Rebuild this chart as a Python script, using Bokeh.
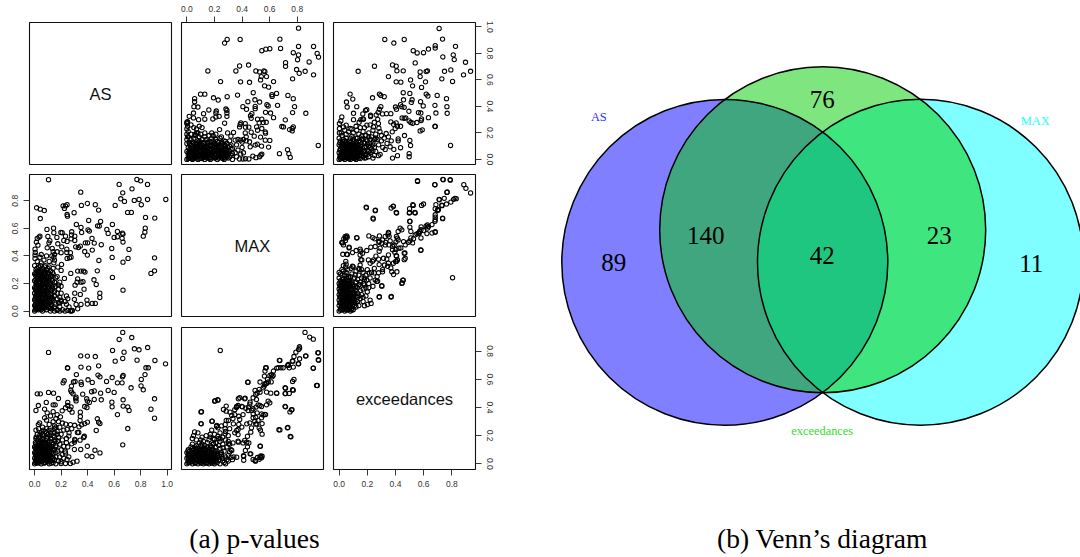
from bokeh.core.properties import value
from bokeh.embed import file_html
from bokeh.layouts import column, row
from bokeh.models import FixedTicker, PrintfTickFormatter, Range1d
from bokeh.plotting import figure
from bokeh.resources import INLINE

# ---- data ----
VARIABLES = ["AS", "MAX", "exceedances"]
TICKS_08 = [0.0, 0.2, 0.4, 0.6, 0.8]
TICKS_10 = [0.0, 0.2, 0.4, 0.6, 0.8, 1.0]

# (MAX, AS)
max_as_pairs = [
 (.809,.99),(.292,.905),(.273,.878),(.386,.905),(.674,.907),(.679,.837),(.543,.82),(.572,.832),(.601,.835),(.809,.852),
 (.918,.852),(.771,.805),(.809,.788),(.802,.752),(.944,.8),(.954,.772),(.886,.735),(.715,.73),(.715,.702),(.382,.705),
 (.355,.667),(.447,.712),(.152,.667),(.244,.587),(.389,.585),(.454,.582),(.5,.667),(.527,.66),(.558,.667),(.565,.662),
 (.539,.625),(.577,.625),(.534,.6),(.628,.587),(.563,.555),(.592,.545),(.795,.678),(.814,.65),(.857,.665),(.918,.638),
 (.766,.608),(.099,.492),(.13,.492),(.056,.458),(.056,.435),(.051,.398),(.08,.395),(.193,.465),(.227,.448),(.292,.473),
 (.367,.485),(.481,.503),(.442,.435),(.493,.45),(.527,.433),(.616,.488),(.65,.498),(.618,.475),(.732,.483),(.771,.458),
 (.406,.398),(.432,.378),(.495,.4),(.495,.383),(.657,.408),(.58,.413),(.589,.403),(.78,.398),(.766,.353),(.862,.348),
 (.57,.355),(.606,.35),(.628,.315),(.471,.345),(.461,.33),(.466,.31),(.121,.345),(.159,.373),(.213,.365),(.21,.35),
 (.234,.325),(.21,.32),(.188,.305),(.283,.38),(.29,.37),(.29,.35),(.29,.325),(.048,.35),(.017,.325),(.048,.313),
 (.085,.3),(.13,.303),(.005,.285),(.0,.28),(.273,.273),(.713,.298),(.512,.303),(.543,.303),(.524,.275),(.553,.278),
 (.575,.28),(.391,.275),(.382,.245),(.423,.27),(.425,.243),(.386,.263),(.449,.243),(.688,.248),(.7,.245),(.744,.225),
 (.763,.233),(.763,.215),(.771,.245),(.505,.245),(.512,.22),(.543,.233),(.568,.208),(.57,.198),(.295,.2),(.319,.175),
 (.338,.203),(.237,.225),(.534,.168),(.568,.145),(.601,.143),(.541,.1),(.592,.093),(.423,.2),(.43,.17),(.466,.205),
 (.488,.175),(.454,.133),(.459,.095),(.495,.108),(.51,.115),(.671,.043),(.729,.073),(.739,.043),(.749,.015),(.952,.105),
 (.478,.025),(.536,.033),(.543,.04),(.527,.02),(.5,.013),(.449,.003),(.425,.005),(.406,.003),(.382,.003),
 (.0,.27),(.005,.25),(.0,.23),(.01,.21),(.0,.19),(.005,.17),(.0,.15),(.015,.13),(.03,.26),(.05,.24),(.07,.23),(.09,.25),
 (.11,.24),(.08,.2),(.06,.19),(.1,.19),(.13,.2),(.35,.145),(.37,.15),(.39,.145),(.41,.15),(.43,.14),(.4,.13),
 (.00,.00),(.02,.01),(.04,.00),(.06,.02),(.08,.00),(.10,.01),(.13,.00),(.15,.02),(.17,.00),(.20,.01),(.22,.00),(.25,.02),
 (.27,.00),(.30,.01),(.33,.00),(.01,.03),(.03,.02),(.05,.04),(.07,.03),(.09,.05),(.11,.03),(.14,.04),(.16,.03),(.19,.05),
 (.21,.03),(.24,.04),(.26,.03),(.29,.05),(.32,.03),(.36,.02),(.00,.06),(.02,.05),(.04,.07),(.06,.06),(.08,.08),(.10,.06),
 (.12,.07),(.15,.06),(.18,.08),(.20,.06),(.23,.07),(.25,.06),(.28,.08),(.31,.06),(.35,.05),(.39,.04),(.01,.09),(.03,.08),
 (.05,.10),(.07,.09),(.09,.11),(.13,.09),(.16,.10),(.19,.09),(.22,.11),(.24,.09),(.27,.10),(.30,.09),(.33,.08),(.37,.07),
 (.41,.05),(.00,.12),(.02,.11),(.04,.13),(.06,.12),(.10,.13),(.12,.12),(.17,.13),(.20,.12),(.23,.13),(.26,.12),(.29,.12),
 (.32,.11),(.36,.11),(.40,.09),(.03,.15),(.05,.16),(.08,.14),(.11,.15),(.14,.15),(.18,.16),(.21,.15),(.24,.16),(.27,.14),
 (.31,.14),(.01,.17),(.06,.18),(.09,.17),(.13,.17),(.16,.18),(.19,.18),(.25,.17),(.03,.19),(.07,.20),(.18,.20),(.21,.19),
 (.015,.015),(.035,.035),(.055,.015),(.075,.05),(.095,.025),(.115,.045),(.125,.015),(.145,.055),(.165,.015),(.185,.03),
 (.205,.045),(.225,.02),(.245,.055),(.265,.015),(.285,.03),(.025,.065),(.045,.045),(.065,.075),(.085,.035),(.105,.085),
 (.125,.045),(.145,.085),(.165,.065),(.195,.07),(.215,.09),(.235,.05),(.275,.065),
 (.01,.005),(.03,.008),(.05,.006),(.07,.012),(.09,.004),(.11,.007),(.12,.025),(.14,.012),(.16,.006),(.18,.012),(.19,.02),
 (.21,.012),(.23,.009),(.24,.025),(.26,.007),(.28,.012),(.29,.02),(.31,.018),(.02,.03),(.04,.025),(.06,.035),(.08,.025),
 (.10,.035),(.12,.035),(.13,.025),(.15,.035),(.17,.035),(.18,.045),(.20,.035),(.22,.035),(.23,.045),(.25,.04),(.27,.035),
 (.28,.045),(.30,.04),(.33,.045),(.01,.05),(.03,.055),(.05,.055),(.07,.06),(.09,.065),(.11,.065),(.13,.06),(.14,.07),
 (.16,.055),(.17,.075),(.19,.06),(.21,.065),(.22,.07),(.24,.07),(.26,.075),(.27,.08),(.29,.07),(.32,.075),(.02,.075),
 (.04,.085),(.06,.095),(.08,.10),(.10,.095),(.11,.105),(.12,.09),(.14,.10),(.15,.095),(.17,.105),(.18,.10),(.20,.095),
 (.21,.11),(.23,.10),(.25,.105),(.28,.10),(.31,.10),(.02,.12),(.03,.105),(.05,.125),(.07,.115),(.08,.125),(.09,.135),
 (.11,.125),(.13,.13),(.15,.125),(.16,.135),(.18,.13),(.19,.14),(.22,.135),(.25,.13),(.28,.135),
]

# (exceedances, AS)
exc_as_pairs = [
 (.71,.988),(.324,.905),(.388,.878),(.462,.905),(.734,.908),(.682,.858),(.682,.84),(.634,.833),(.599,.805),(.554,.803),
 (.526,.82),(.826,.853),(.736,.773),(.81,.788),(.817,.753),(.897,.733),(.54,.728),(.251,.703),(.379,.713),(.405,.703),
 (.41,.668),(.455,.668),(.135,.665),(.35,.625),(.405,.585),(.438,.583),(.575,.66),(.575,.625),(.618,.663),(.627,.668),
 (.613,.585),(.507,.6),(.521,.555),(.585,.543),(.748,.665),(.793,.675),(.729,.608),(.805,.588),(.883,.638),(.933,.665),
 (.455,.503),(.502,.498),(.618,.493),(.63,.478),(.696,.483),(.762,.458),(.078,.493),(.097,.455),(.052,.433),(.057,.395),
 (.125,.398),(.102,.348),(.237,.465),(.286,.493),(.296,.483),(.32,.473),(.187,.37),(.168,.343),(.196,.375),(.296,.398),
 (.286,.378),(.277,.355),(.263,.335),(.4,.395),(.407,.378),(.457,.45),(.518,.45),(.512,.43),(.578,.435),(.597,.403),
 (.68,.408),(.765,.398),(.767,.348),(.687,.35),(.563,.353),(.58,.35),(.436,.413),(.445,.398),(.462,.393),(.495,.363),
 (.308,.343),(.336,.345),(.367,.345),(.223,.333),(.223,.323),(.447,.313),(.462,.31),(.473,.313),(.585,.305),(.634,.315),
 (.497,.29),(.509,.278),(.523,.273),(.552,.278),(.582,.293),(.68,.25),(.682,.248),(.436,.25),(.367,.283),(.386,.265),
 (.405,.275),(.414,.25),(.575,.215),(.59,.223),(.464,.18),(.502,.143),(.507,.105),(.419,.155),(.419,.14),(.436,.088),
 (.414,.028),(.379,.01),(.497,.043),(.497,.02),(.791,.105),(.362,.095),(.388,.075),(.327,.075),(.279,.028),(.291,.038),
 (.334,.195),(.377,.208),(.398,.233),(.282,.235),(.279,.27),(.274,.302),(.244,.245),(.197,.258),(.168,.305),(.142,.28),
 (.154,.3),(.173,.303),(.102,.3),(.078,.233),(.019,.32),(.012,.29),(.002,.27),(.002,.233),(.002,.2),(.05,.258),(.031,.245),
 (.066,.208),(.125,.22),(.15,.24),(.17,.21),(.21,.2),(.24,.22),(.26,.19),(.3,.18),(.32,.16),(.35,.17),(.37,.14),(.3,.14),
 (.34,.12),(.27,.15),(.23,.17),(.19,.18),(.14,.19),(.1,.2),(.05,.19),(.02,.18),(.0,.16),(.03,.15),(.08,.16),(.12,.16),
 (.16,.15),(.2,.14),(.24,.13),(.28,.11),(.31,.09),
 (.00,.00),(.02,.01),(.04,.00),(.06,.01),(.08,.00),(.10,.02),(.12,.00),(.14,.01),(.16,.03),(.18,.01),(.21,.02),(.24,.01),
 (.01,.03),(.03,.02),(.05,.04),(.07,.03),(.09,.04),(.11,.03),(.13,.04),(.15,.05),(.19,.04),(.22,.05),(.25,.03),(.00,.05),
 (.02,.06),(.04,.06),(.06,.05),(.08,.07),(.10,.06),(.12,.07),(.14,.07),(.17,.06),(.20,.07),(.23,.08),(.26,.06),(.01,.08),
 (.03,.09),(.05,.08),(.07,.09),(.09,.09),(.11,.10),(.13,.09),(.15,.10),(.18,.09),(.21,.10),(.25,.09),(.00,.11),(.02,.12),
 (.04,.11),(.06,.12),(.08,.11),(.10,.12),(.12,.13),(.15,.13),(.18,.12),(.22,.12),(.01,.14),(.04,.14),(.07,.14),(.10,.15),
 (.13,.16),(.17,.16),(.015,.015),(.035,.03),(.055,.02),(.075,.015),(.095,.03),(.115,.015),(.03,.05),(.05,.065),(.07,.06),
 (.09,.075),(.11,.05),(.13,.06),(.02,.085),(.04,.095),(.06,.075),(.08,.095),(.10,.085),(.12,.10),(.03,.105),(.05,.115),
 (.07,.11),(.09,.105),
 (.01,.005),(.03,.008),(.05,.012),(.07,.005),(.09,.012),(.11,.006),(.13,.012),(.15,.006),(.17,.02),(.19,.012),(.005,.02),
 (.025,.025),(.045,.018),(.065,.025),(.085,.02),(.105,.04),(.125,.025),(.145,.035),(.165,.045),(.185,.03),(.205,.04),
 (.015,.045),(.035,.042),(.055,.045),(.075,.05),(.095,.055),(.115,.065),(.135,.055),(.155,.07),(.18,.065),(.21,.06),
 (.24,.065),(.005,.07),(.025,.075),(.045,.072),(.065,.068),(.085,.085),(.105,.075),(.125,.085),(.145,.085),(.165,.085),
 (.19,.10),(.22,.09),(.015,.10),(.035,.115),(.055,.10),(.075,.10),(.095,.115),(.115,.12),(.135,.11),(.16,.115),(.20,.115),
 (.24,.11),(.005,.125),(.025,.135),(.05,.135),(.085,.13),(.11,.14),(.14,.14),(.19,.15),(.22,.15),(.25,.15),(.05,.16),
 (.09,.175),(.16,.175),(.21,.17),(.26,.16),(.015,.20),(.04,.22),(.09,.23),(.12,.25),(.18,.24),(.22,.26),(.25,.28),(.29,.21),
]

# (exceedances, MAX)
exc_max_pairs = [
 (.556,.945),(.679,.916),(.736,.955),(.788,.953),(.885,.916),(.9,.89),(.933,.856),(.767,.863),(.71,.81),(.746,.817),
 (.729,.768),(.762,.776),(.793,.79),(.812,.81),(.822,.817),(.831,.815),(.523,.771),(.585,.766),(.599,.776),(.687,.771),
 (.682,.742),(.705,.735),(.698,.73),(.192,.754),(.258,.732),(.241,.674),(.369,.747),(.384,.761),(.405,.715),(.5,.742),
 (.5,.715),(.537,.715),(.682,.698),(.682,.681),(.682,.662),(.734,.674),(.502,.65),(.627,.625),(.618,.618),(.634,.613),
 (.502,.608),(.509,.577),(.582,.611),(.571,.577),(.433,.601),(.445,.589),(.419,.577),(.682,.575),(.599,.584),(.623,.562),
 (.54,.553),(.552,.56),(.563,.565),(.054,.545),(.043,.541),(.033,.524),(.019,.497),(.045,.511),(.125,.533),(.211,.545),
 (.239,.533),(.253,.524),(.286,.545),(.35,.57),(.346,.553),(.327,.541),(.308,.516),(.407,.541),(.414,.529),(.419,.516),
 (.282,.499),(.303,.492),(.33,.499),(.362,.509),(.457,.504),(.492,.499),(.502,.509),(.528,.524),(.031,.48),(.071,.463),
 (.026,.412),(.054,.412),(.095,.424),(.121,.439),(.149,.449),(.166,.419),(.196,.439),(.225,.463),(.256,.468),(.291,.456),
 (.327,.48),(.355,.48),(.391,.48),(.424,.456),(.469,.48),(.379,.444),(.395,.427),(.405,.402),(.414,.371),(.4,.359),
 (.35,.407),(.462,.419),(.469,.383),(.58,.441),(.149,.407),(.161,.371),(.149,.334),(.208,.371),(.22,.347),(.244,.371),
 (.28,.376),(.315,.383),(.338,.376),(.308,.285),(.28,.278),(.322,.334),(.374,.285),(.41,.285),(.385,.347),(.35,.347),
 (.452,.225),(.445,.201),(.805,.242),(.256,.225),(.303,.184),(.286,.102),(.369,.102),(.22,.08),(.201,.048),(.18,.039),
 (.227,.056),(.267,.215),(.196,.225),(.173,.2),(.114,.262),(.085,.31),(.05,.34),(.03,.33),(.02,.3),(.0,.28),(.02,.26),
 (.05,.28),(.08,.25),(.11,.24),(.14,.26),(.17,.28),(.2,.3),(.23,.28),(.25,.31),(.27,.25),(.24,.18),(.21,.2),(.18,.23),
 (.15,.21),(.17,.16),(.2,.14),(.16,.12),(.13,.17),(.12,.21),(.19,.11),(.15,.09),(.13,.07),(.17,.07),(.14,.04),(.12,.03),
 (.00,.00),(.02,.01),(.04,.00),(.06,.01),(.08,.00),(.10,.01),(.01,.02),(.03,.03),(.05,.02),(.07,.03),(.09,.02),(.11,.04),
 (.00,.04),(.02,.05),(.04,.04),(.06,.05),(.08,.04),(.10,.05),(.12,.06),(.01,.06),(.03,.07),(.05,.06),(.07,.07),(.09,.07),
 (.11,.08),(.00,.08),(.02,.09),(.04,.08),(.06,.09),(.08,.09),(.10,.10),(.12,.11),(.01,.10),(.03,.11),(.05,.10),(.07,.11),
 (.09,.11),(.11,.13),(.00,.12),(.02,.13),(.04,.12),(.06,.13),(.08,.13),(.10,.14),(.01,.14),(.03,.15),(.05,.14),(.07,.15),
 (.09,.16),(.12,.15),(.00,.16),(.02,.17),(.04,.16),(.06,.17),(.08,.18),(.10,.19),(.01,.18),(.03,.19),(.05,.18),(.07,.20),
 (.00,.20),(.02,.21),(.04,.20),(.06,.22),(.09,.21),(.01,.22),(.03,.23),(.05,.24),(.07,.24),(.00,.24),
 (.01,.008),(.03,.012),(.05,.008),(.07,.012),(.09,.008),(.015,.035),(.035,.045),(.055,.035),(.075,.045),(.095,.035),
 (.005,.06),(.025,.065),(.045,.055),(.065,.07),(.085,.06),(.105,.07),(.015,.085),(.035,.09),(.055,.08),(.075,.085),(.095,.09),
 (.005,.105),(.025,.11),(.045,.10),(.065,.11),(.085,.11),(.105,.12),(.015,.125),(.035,.13),(.055,.12),(.075,.13),(.095,.135),
 (.005,.145),(.025,.15),(.045,.145),(.065,.15),(.085,.155),(.105,.165),(.015,.165),(.035,.17),(.055,.16),(.075,.175),(.095,.18),
 (.005,.185),(.025,.19),(.045,.19),(.065,.19),(.085,.20),(.015,.205),(.035,.21),(.055,.205),(.075,.22),(.025,.23),(.045,.225),
 (.065,.25),(.09,.27),(.12,.29),(.14,.31),(.04,.26),(.01,.27),(.03,.29),(.06,.30),(.10,.32),(.16,.30),(.13,.23),(.16,.24),
 (.19,.26),(.22,.24),(.14,.19),(.18,.19),(.21,.17),(.13,.13),(.15,.15),(.12,.18),(.14,.11),(.17,.10),(.11,.06),(.13,.10),
 (.386,.265),(.367,.313),(.344,.325),(.408,.361),(.408,.398),(.403,.446),(.379,.47),(.403,.501),(.355,.542),(.351,.566),
 (.284,.506),(.284,.434),(.261,.398),(.237,.361),(.284,.337),(.308,.301),(.249,.277),(.213,.277),(.178,.241),(.273,.217),
 (.303,.181),(.19,.169),(.142,.193),(.142,.301),(.154,.373),(.154,.434),(.126,.53),(.059,.41),(.071,.458),(.024,.494),
 (.047,.53),(.057,.535),(.047,.32),(.047,.361),(.095,.325),(.462,.373),(.467,.422),(.438,.458),(.521,.494),(.509,.53),
 (.569,.566),(.628,.602),(.659,.627),(.581,.53),(.659,.566),(.581,.59),(.502,.651),(.54,.711),(.498,.711),(.526,.766),
 (.408,.711),(.384,.759),(.242,.667),(.256,.728),(.194,.749),(.557,.94),(.68,.916),(.739,.952),(.789,.949),(.765,.86),
 (.711,.807),(.73,.764),(.699,.733),(.735,.67),(.68,.651),(.682,.571),(.58,.443),(.448,.205),(.455,.224),(.37,.106),
 (.284,.104),
]

venn_counts = ["89", "140", "76", "42", "23", "11"]
venn_sets = ["AS", "MAX", "exceedances"]
captions = ["(a) p-values", "(b) Venn\u2019s diagram"]

# ---- layout constants ----
RANGE_AS = (-0.0386, 1.033)
RANGE_MAX = (-0.039, 0.99)
RANGE_EXC = (-0.04, 0.968)
FRAME = 142
COLS = [dict(l=29, r=5), dict(l=5, r=5), dict(l=5, r=35)]
ROWS = [dict(t=22, b=5), dict(t=5, b=6), dict(t=5, b=31)]
SANS = value("Liberation Sans")
SERIF = value("Liberation Serif")


def panel(r, c, xr, yr, pairs=None, swap=False, label=None, xloc=None, yloc=None, xticks=None, yticks=None):
    p = figure(
        width=FRAME + COLS[c]["l"] + COLS[c]["r"], height=FRAME + ROWS[r]["t"] + ROWS[r]["b"],
        x_range=Range1d(*xr), y_range=Range1d(*yr),
        x_axis_location=xloc, y_axis_location=yloc,
        min_border_left=COLS[c]["l"], min_border_right=COLS[c]["r"],
        min_border_top=ROWS[r]["t"], min_border_bottom=ROWS[r]["b"],
        toolbar_location=None, output_backend="svg", background_fill_color="white",
    )
    p.grid.visible = False
    p.outline_line_color = "#111111"
    p.outline_line_width = 1.1
    for axis, ticks in ((p.xaxis, xticks), (p.yaxis, yticks)):
        if ticks is None:
            continue
        axis.ticker = FixedTicker(ticks=ticks)
        axis.formatter = PrintfTickFormatter(format="%.1f")
        axis.axis_line_color = None
        axis.major_tick_in = 0
        axis.major_tick_out = 6
        axis.major_tick_line_color = "#222222"
        axis.major_tick_line_width = 0.9
        axis.minor_tick_line_color = None
        axis.major_label_standoff = 5
        axis.major_label_text_font = "Liberation Sans"
        axis.major_label_text_font_size = "8.5px"
        axis.major_label_text_color = "#333333"
    if yticks is not None:
        p.yaxis.major_label_orientation = "vertical"
    if pairs is not None:
        xs = [q[1] if swap else q[0] for q in pairs]
        ys = [q[0] if swap else q[1] for q in pairs]
        p.scatter(xs, ys, marker="circle", size=4.3, fill_color=None, line_color="black", line_width=1.05)
    if label is not None:
        p.text([(xr[0] + xr[1]) / 2], [(yr[0] + yr[1]) / 2], text=[label], text_font=SANS,
               text_font_size="16.5px", text_align="center", text_baseline="middle", text_color="#111111")
    return p


grid = column(
    row(
        panel(0, 0, RANGE_AS, RANGE_AS, label=VARIABLES[0]),
        panel(0, 1, RANGE_MAX, RANGE_AS, max_as_pairs, xloc="above", xticks=TICKS_08),
        panel(0, 2, RANGE_EXC, RANGE_AS, exc_as_pairs, yloc="right", yticks=TICKS_10),
        spacing=0,
    ),
    row(
        panel(1, 0, RANGE_AS, RANGE_MAX, max_as_pairs, swap=True, yloc="left", yticks=TICKS_08),
        panel(1, 1, RANGE_MAX, RANGE_MAX, label=VARIABLES[1]),
        panel(1, 2, RANGE_EXC, RANGE_MAX, exc_max_pairs),
        spacing=0,
    ),
    row(
        panel(2, 0, RANGE_AS, RANGE_EXC, exc_as_pairs, swap=True, xloc="below", xticks=TICKS_10),
        panel(2, 1, RANGE_MAX, RANGE_EXC, exc_max_pairs, swap=True),
        panel(2, 2, RANGE_EXC, RANGE_EXC, label=VARIABLES[2], xloc="below", yloc="right", xticks=TICKS_08, yticks=TICKS_08),
        spacing=0,
    ),
    spacing=0,
)

# ---- Venn diagram: one data unit is one pixel ----
venn = figure(width=570, height=500, x_range=Range1d(510, 1080), y_range=Range1d(500, 0),
              x_axis_location=None, y_axis_location=None, min_border=0,
              toolbar_location=None, output_backend="svg")
venn.grid.visible = False
venn.outline_line_color = None
circle_x = [724.3, 920, 822.2]
circle_y = [261.8, 261.8, 229.3]
circle_d = [326, 326, 326]
circle_col = ["#0000ff", "#00ffff", "#00cd00"]
venn.ellipse(circle_x, circle_y, width=circle_d, height=circle_d, fill_color=circle_col, fill_alpha=0.5, line_color=None)
venn.ellipse(circle_x, circle_y, width=circle_d, height=circle_d, fill_color=None, line_color="black", line_width=1.5)
venn.text([613.2, 705.2, 821.8, 821.8, 938.8, 1030.7], [262, 235, 99, 255, 235, 262.7], text=venn_counts, text_font=SERIF,
          text_font_size="25px", text_align="center", text_baseline="middle", text_color="black")
venn.text([598.3, 1034.8, 821.7], [116.7, 120.7, 430.3], text=venn_sets, text_font=SERIF, text_font_size="12.4px",
          text_align="center", text_baseline="middle", text_color=["#3030ff", "#20ffff", "#30dd30"])

# ---- captions ----
cap = figure(width=1080, height=56, x_range=Range1d(0, 1080), y_range=Range1d(56, 0),
             x_axis_location=None, y_axis_location=None, min_border=0,
             toolbar_location=None, output_backend="svg")
cap.grid.visible = False
cap.outline_line_color = None
cap.text([254, 822], [38, 38], text=captions, text_font=SERIF, text_font_size="27.5px",
         text_align="center", text_baseline="middle", text_color="black")

root = column(row(grid, venn, spacing=0), cap, spacing=0)
open("out.html", "w").write(file_html(root, INLINE))
